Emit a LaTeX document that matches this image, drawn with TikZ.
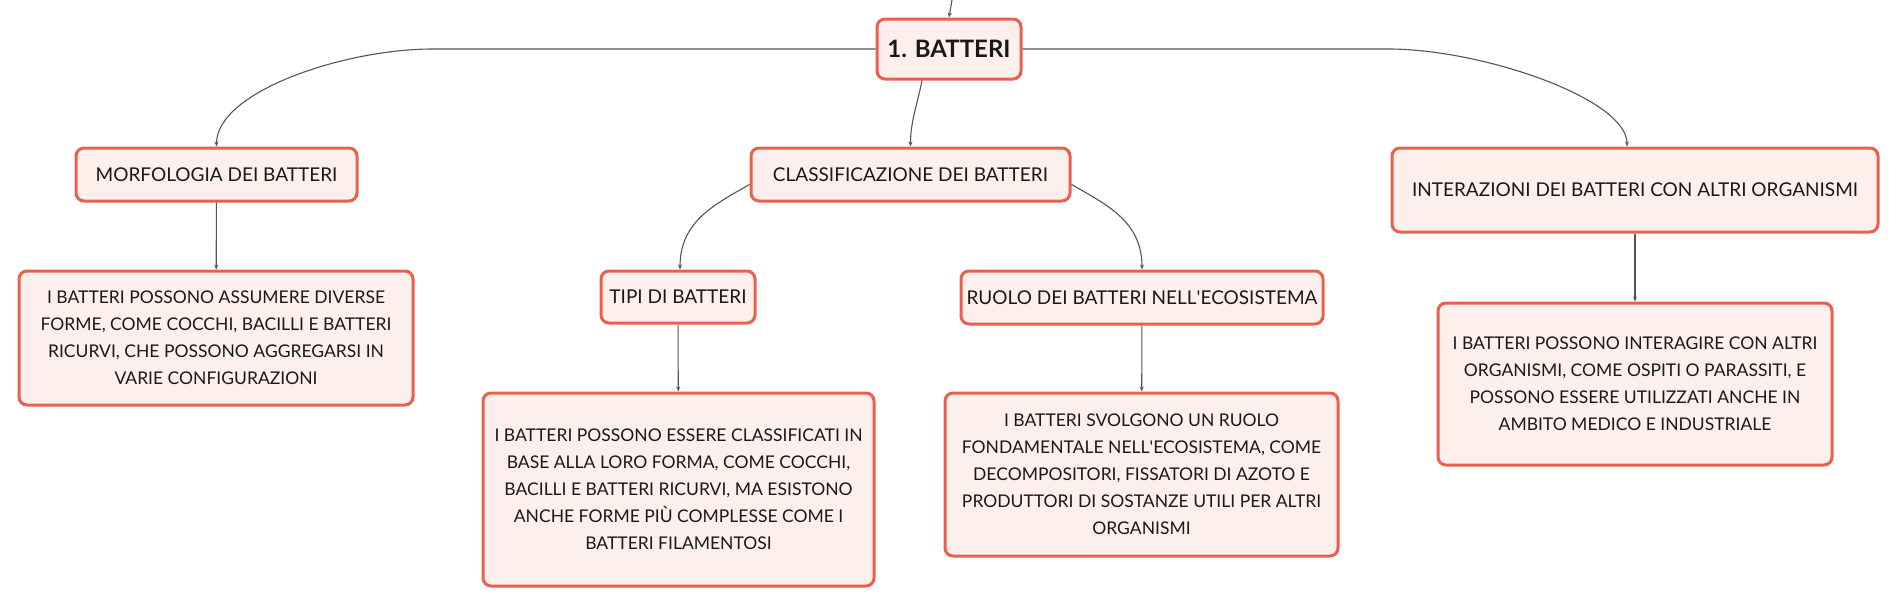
\documentclass[tikz,border=0pt]{standalone}
\usepackage{fontspec}
\setmainfont{Lato}
\usetikzlibrary{arrows.meta}
\definecolor{boxred}{RGB}{233,97,78}
\definecolor{boxfill}{RGB}{253,240,236}
\definecolor{linkgray}{RGB}{85,85,85}
\tikzset{
  topic/.style={draw=boxred, fill=boxfill, line width=3pt, rounded corners=8pt,
    inner sep=0pt, align=center, text=black!90, font=\fontsize{19}{23}\selectfont},
  detail/.style={topic, font=\fontsize{17.5}{27}\selectfont},
  link/.style={draw=linkgray, line width=1.1pt, -{Stealth[length=5pt,width=4pt]}}
}
\begin{document}
\begin{tikzpicture}[x=1pt, y=-1pt]
          \useasboundingbox (0,0) rectangle (1898,605);
          % main topic and the link coming from above
          \coordinate (up) at (952,0);
          \node[topic, font=\fontsize{24}{28}\selectfont\bfseries, minimum width=144pt, minimum height=60pt] (batteri) at (949,49) {1. BATTERI};
          \draw[link] (up) -- (batteri.north);

          % first level
          \node[topic, minimum width=281pt, minimum height=53pt] (morf) at (216.5,174.5) {MORFOLOGIA DEI BATTERI};
          \node[topic, minimum width=319pt, minimum height=53pt] (class) at (910.5,174.5) {CLASSIFICAZIONE DEI BATTERI};
          \node[topic, minimum width=486pt, minimum height=84pt] (inter) at (1635,190) {INTERAZIONI DEI BATTERI CON ALTRI ORGANISMI};

          % second level under the classification
          \node[topic, minimum width=154pt, minimum height=52pt] (tipi) at (678,297) {TIPI DI BATTERI};
          \node[topic, minimum width=362pt, minimum height=53pt] (ruolo) at (1142,297.5) {RUOLO DEI BATTERI NELL\textquotesingle ECOSISTEMA};

          % the descriptions
          \node[detail, minimum width=394pt, minimum height=134pt] (dmorf) at (216,338) {I BATTERI POSSONO ASSUMERE DIVERSE\\FORME, COME COCCHI, BACILLI E BATTERI\\RICURVI, CHE POSSONO AGGREGARSI IN\\VARIE CONFIGURAZIONI};
          \node[detail, minimum width=391pt, minimum height=193pt] (dtipi) at (678.5,489.5) {I BATTERI POSSONO ESSERE CLASSIFICATI IN\\BASE ALLA LORO FORMA, COME COCCHI,\\BACILLI E BATTERI RICURVI, MA ESISTONO\\ANCHE FORME PIÙ COMPLESSE COME I\\BATTERI FILAMENTOSI};
          \node[detail, minimum width=393pt, minimum height=163pt] (druolo) at (1141.5,474.5) {I BATTERI SVOLGONO UN RUOLO\\FONDAMENTALE NELL\textquotesingle ECOSISTEMA, COME\\DECOMPOSITORI, FISSATORI DI AZOTO E\\PRODUTTORI DI SOSTANZE UTILI PER ALTRI\\ORGANISMI};
          \node[detail, minimum width=394pt, minimum height=162pt] (dinter) at (1635,384) {I BATTERI POSSONO INTERAGIRE CON ALTRI\\ORGANISMI, COME OSPITI O PARASSITI, E\\POSSONO ESSERE UTILIZZATI ANCHE IN\\AMBITO MEDICO E INDUSTRIALE};

          % curved links
          \draw[link] (batteri.west) -- ++(-443,0) .. controls +(-88,0) and +(0,-55) .. (morf.north);
          \draw[link] (batteri.east) -- ++(366,0) .. controls +(93,0) and +(0,-48) .. ([xshift=-8pt]inter.north);
          \draw[link] ([xshift=-27pt]batteri.south) .. controls +(-5,25) and +(0,-25) .. (class.north);
          \draw[link] ([yshift=-10pt]class.west) .. controls +(-35,20) and +(0,-48) .. ([xshift=2pt]tipi.north);
          \draw[link] ([yshift=-10pt]class.east) .. controls +(35,20) and +(0,-48) .. (ruolo.north);

          % straight links down to the descriptions, using a loop
          \foreach \a/\b in {morf/dmorf, tipi/dtipi, ruolo/druolo, inter/dinter}
            \draw[link] (\a) -- (\b);
\end{tikzpicture}
\end{document}
